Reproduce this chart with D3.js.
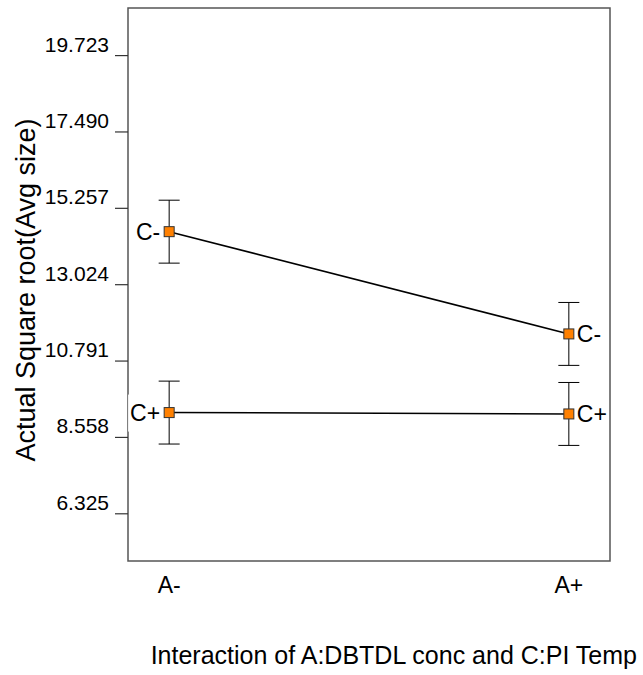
<!DOCTYPE html>
<html>
<head>
<meta charset="utf-8">
<script src="https://cdn.jsdelivr.net/npm/d3@7"></script>
<style>
  html, body { margin: 0; padding: 0; background: #fff; }
  svg { display: block; font-family: "Liberation Sans", Arial, sans-serif; }
</style>
</head>
<body>
<svg id="chart" width="643" height="675"></svg>
<script>
// ---- data ----
const categories = ["A-", "A+"];
const seriesNames = ["C-", "C+"];
const valuesCminus = [14.56, 11.57];
const valuesCplus = [9.27, 9.23];
const errCminus = [0.92, 0.92];
const errCplus = [0.92, 0.92];
const tickValues = [6.325, 8.558, 10.791, 13.024, 15.257, 17.490, 19.723];
const tickLabels = ["6.325", "8.558", "10.791", "13.024", "15.257", "17.490", "19.723"];
const yDomain = [4.93, 21.1];
const xTitle = "Interaction of A:DBTDL conc and C:PI Temp";
const yTitle = "Actual Square root(Avg size)";

// ---- layout ----
const frame = { left: 128, top: 8, right: 610, bottom: 561 };
const svg = d3.select("#chart");

const x = d3.scalePoint().domain(categories).range([frame.left, frame.right]).padding(0.103);
const y = d3.scaleLinear().domain(yDomain).range([frame.bottom, frame.top]);

const series = [
  { name: seriesNames[0], values: valuesCminus, err: errCminus },
  { name: seriesNames[1], values: valuesCplus, err: errCplus }
];

// frame
svg.append("rect")
  .attr("x", frame.left).attr("y", frame.top)
  .attr("width", frame.right - frame.left).attr("height", frame.bottom - frame.top)
  .attr("fill", "none").attr("stroke", "#555").attr("stroke-width", 1.5);

// y axis ticks
const yAxis = d3.axisLeft(y).tickValues(tickValues)
  .tickFormat((d, i) => tickLabels[i]).tickSize(13).tickPadding(6);
const gy = svg.append("g").attr("transform", `translate(${frame.left},0)`).call(yAxis);
gy.select(".domain").remove();
gy.selectAll(".tick line").attr("stroke", "#333").attr("stroke-width", 1.2);
gy.selectAll(".tick text").attr("dy", 0).attr("y", -4)
  .attr("font-size", 21).attr("fill", "#000")
  .attr("font-family", "'Liberation Sans', Arial, sans-serif");

// error bars
const capHalf = 10.5;
series.forEach(s => {
  const g = svg.append("g").attr("stroke", "#000").attr("stroke-width", 1);
  categories.forEach((c, i) => {
    const cx = x(c), hi = y(s.values[i] + s.err[i]), lo = y(s.values[i] - s.err[i]);
    g.append("line").attr("x1", cx).attr("x2", cx).attr("y1", hi).attr("y2", lo);
    g.append("line").attr("x1", cx - capHalf).attr("x2", cx + capHalf).attr("y1", hi).attr("y2", hi);
    g.append("line").attr("x1", cx - capHalf).attr("x2", cx + capHalf).attr("y1", lo).attr("y2", lo);
  });
});

// lines
const line = d3.line().x((d, i) => x(categories[i])).y(d => y(d));
series.forEach(s => {
  svg.append("path").datum(s.values).attr("d", line)
    .attr("fill", "none").attr("stroke", "#000").attr("stroke-width", 1.5);
});

// point labels with white background
series.forEach(s => {
  categories.forEach((c, i) => {
    const cx = x(c), cy = y(s.values[i]);
    const left = i === 0;
    const t = svg.append("text")
      .attr("x", left ? cx - 9 : cx + 8)
      .attr("y", cy + 8.5)
      .attr("text-anchor", left ? "end" : "start")
      .attr("font-size", 23).attr("fill", "#000")
      .text(s.name);
    const bb = t.node().getBBox();
    svg.insert("rect", () => t.node())
      .attr("x", bb.x - 2).attr("y", cy - 18)
      .attr("width", bb.width + 4).attr("height", 37)
      .attr("fill", "#fff");
  });
});

// markers
const ms = 10;
series.forEach(s => {
  svg.append("g").selectAll("rect").data(s.values).join("rect")
    .attr("x", (d, i) => x(categories[i]) - ms / 2)
    .attr("y", d => y(d) - ms / 2)
    .attr("width", ms).attr("height", ms)
    .attr("fill", "#ff8000").attr("stroke", "#333").attr("stroke-width", 1);
});

// x category labels
svg.append("g").selectAll("text").data(categories).join("text")
  .attr("x", d => x(d)).attr("y", 593)
  .attr("text-anchor", "middle").attr("font-size", 23).attr("fill", "#000")
  .text(d => d);

// titles
svg.append("text").attr("x", 637).attr("y", 664)
  .attr("text-anchor", "end").attr("font-size", 25).attr("fill", "#000")
  .text(xTitle);
svg.append("text").attr("transform", "translate(35,290) rotate(-90)")
  .attr("text-anchor", "middle").attr("font-size", 27).attr("fill", "#000")
  .text(yTitle);
</script>
</body>
</html>
